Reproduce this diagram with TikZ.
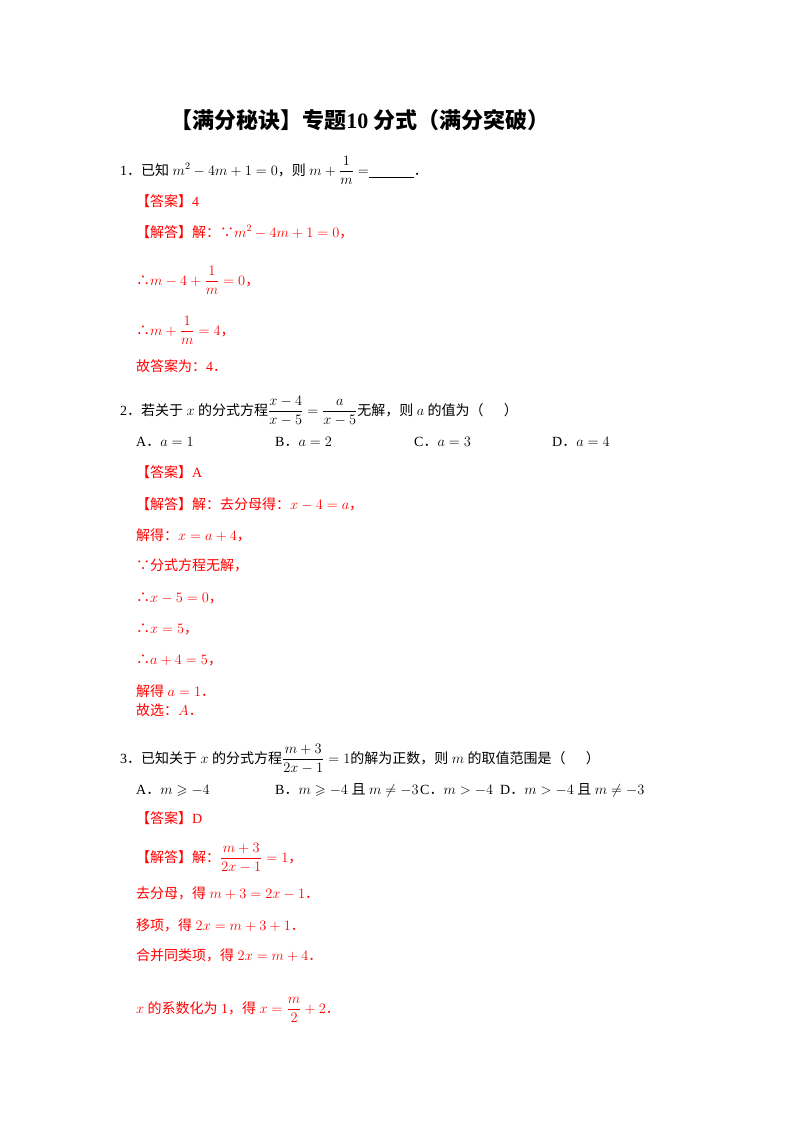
\documentclass[tikz,border=0pt]{standalone}
\usepackage{amsmath,amssymb}
\usepackage{fontspec}
\setmainfont{Liberation Serif}
\newfontfamily\cjk{Noto Sans CJK SC}
\newcommand\zh[1]{{\cjk #1}}
\newcommand\pd{\zh{．}}
\begin{document}
\begin{tikzpicture}[x=1pt,y=-1pt,
  ln/.style={anchor=base west,inner sep=0pt,font=\fontsize{14}{16}\selectfont},
  rd/.style={ln,text=red}]
\fill[white] (0,0) rectangle (800,1132);
\node[anchor=base,inner sep=0pt,font=\fontsize{22}{24}\selectfont\bfseries] (t) at (360,128) {\zh{【满分秘诀】专题}10\ \zh{分式（满分突破）}};
\node[ln] (q1) at (120,175) {1\pd\zh{已知} $m^2-4m+1=0$\zh{，则} $m+\dfrac{1}{m}=$\underline{\hspace{45pt}}\pd};
\node[rd] (a1) at (136,206) {\zh{【答案】}4};
\node[rd] (s1) at (136,237) {\zh{【解答】解：∵}$m^2-4m+1=0$\zh{，}};
\node[rd] (s2) at (136,285) {\zh{∴}$m-4+\dfrac{1}{m}=0$\zh{，}};
\node[rd] (s3) at (136,335) {\zh{∴}$m+\dfrac{1}{m}=4$\zh{，}};
\node[rd] (s4) at (136,371) {\zh{故答案为：}4\pd};
\node[ln] (q2) at (120,415) {2\pd\zh{若关于} $x$ \zh{的分式方程}$\dfrac{x-4}{x-5}=\dfrac{a}{x-5}$\zh{无解，则} $a$ \zh{的值为（\quad\ \ ）}};
\node[ln] (o2a) at (136,446) {A\pd$a=1$};
\node[ln] (o2b) at (275,446) {B\pd$a=2$};
\node[ln] (o2c) at (414,446) {C\pd$a=3$};
\node[ln] (o2d) at (552,446) {D\pd$a=4$};
\node[rd] (a2) at (136,477) {\zh{【答案】}A};
\node[rd] (b1) at (136,509) {\zh{【解答】解：去分母得：}$x-4=a$\zh{，}};
\node[rd] (b2) at (136,540) {\zh{解得：}$x=a+4$\zh{，}};
\node[rd] (b3) at (136,570) {\zh{∵分式方程无解，}};
\node[rd] (b4) at (136,602) {\zh{∴}$x-5=0$\zh{，}};
\node[rd] (b5) at (136,633) {\zh{∴}$x=5$\zh{，}};
\node[rd] (b6) at (136,664) {\zh{∴}$a+4=5$\zh{，}};
\node[rd] (b7) at (136,696) {\zh{解得} $a=1$\pd};
\node[rd] (b8) at (136,715) {\zh{故选：}$A$\pd};
\node[ln] (q3) at (120,763) {3\pd\zh{已知关于} $x$ \zh{的分式方程}$\dfrac{m+3}{2x-1}=1$\zh{的解为正数，则} $m$ \zh{的取值范围是（\quad\ \ ）}};
\node[ln] (o3a) at (136,794) {A\pd$m\geqslant-4$};
\node[ln] (o3b) at (275,794) {B\pd$m\geqslant-4$ \zh{且} $m\neq-3$};
\node[ln] (o3c) at (420,794) {C\pd$m>-4$};
\node[ln] (o3d) at (500,794) {D\pd$m>-4$ \zh{且} $m\neq-3$};
\node[rd] (a3) at (136,823) {\zh{【答案】}D};
\node[rd] (c1) at (136,862) {\zh{【解答】解：}$\dfrac{m+3}{2x-1}=1$\zh{，}};
\node[rd] (c2) at (136,898) {\zh{去分母，得} $m+3=2x-1$\pd};
\node[rd] (c3) at (136,930) {\zh{移项，得} $2x=m+3+1$\pd};
\node[rd] (c4) at (136,960) {\zh{合并同类项，得} $2x=m+4$\pd};
\node[rd] (c5) at (136,1013) {$x$ \zh{的系数化为} 1\zh{，得} $x=\dfrac{m}{2}+2$\pd};
\end{tikzpicture}
\end{document}
